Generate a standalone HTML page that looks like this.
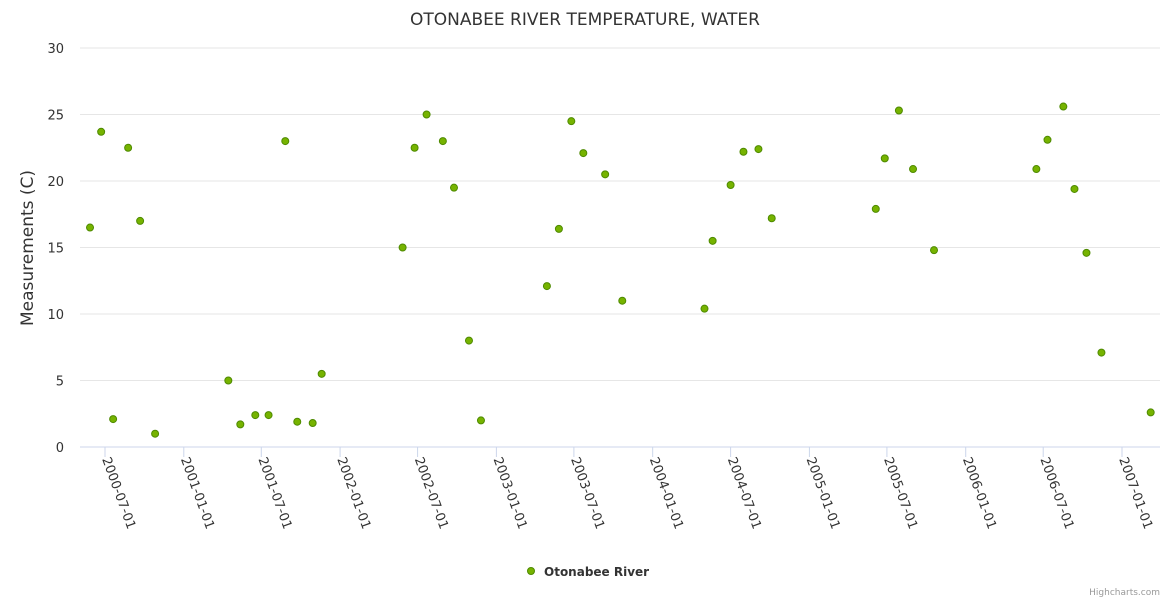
<!DOCTYPE html>
<html><head><meta charset="utf-8"><style>
body{margin:0;background:#fff;font-family:"Liberation Sans","DejaVu Sans",sans-serif}
svg text{font-family:"DejaVu Sans","Liberation Sans",sans-serif}
</style></head><body>
<svg id="c" width="1170" height="600" xmlns="http://www.w3.org/2000/svg">
<rect width="1170" height="600" fill="#fff"/>
<text x="585" y="25" text-anchor="middle" font-size="17" fill="#333">OTONABEE RIVER TEMPERATURE, WATER</text>
<text transform="translate(33,248) rotate(-90)" text-anchor="middle" font-size="17" fill="#333">Measurements (C)</text>
<g id="grid"></g><g id="xax"></g><g id="pts"></g>
<g>
<circle cx="531" cy="571" r="3.5" fill="#76b300" stroke="#4e8a00" stroke-width="1"/>
<text x="544" y="576" font-size="12" font-weight="bold" fill="#333">Otonabee River</text>
</g>
<text x="1160" y="595" text-anchor="end" font-size="9" fill="#999">Highcharts.com</text>
</svg>
<script>
const yTicks=[0,5,10,15,20,25,30];
const xTickLabels=["2000-07-01","2001-01-01","2001-07-01","2002-01-01","2002-07-01","2003-01-01","2003-07-01","2004-01-01","2004-07-01","2005-01-01","2005-07-01","2006-01-01","2006-07-01","2007-01-01"];
const dates=["2000-05-27","2000-06-22","2000-07-20","2000-08-24","2000-09-21","2000-10-26","2001-04-15","2001-05-13","2001-06-17","2001-07-18","2001-08-26","2001-09-23","2001-10-29","2001-11-19","2002-05-27","2002-06-24","2002-07-22","2002-08-29","2002-09-24","2002-10-29","2002-11-26","2003-04-29","2003-05-27","2003-06-25","2003-07-23","2003-09-12","2003-10-22","2004-05-01","2004-05-20","2004-07-01","2004-07-31","2004-09-04","2004-10-05","2005-06-05","2005-06-26","2005-07-29","2005-08-31","2005-10-19","2006-06-15","2006-07-11","2006-08-17","2006-09-12","2006-10-10","2006-11-14","2007-03-09"];
const temps=[16.5,23.7,2.1,22.5,17.0,1.0,5.0,1.7,2.4,2.4,23.0,1.9,1.8,5.5,15.0,22.5,25.0,23.0,19.5,8.0,2.0,12.1,16.4,24.5,22.1,20.5,11.0,10.4,15.5,19.7,22.2,22.4,17.2,17.9,21.7,25.3,20.9,14.8,20.9,23.1,25.6,19.4,14.6,7.1,2.6];
const NS="http://www.w3.org/2000/svg";
const T0=Date.UTC(2000,6,1),T1=Date.UTC(2007,0,1);
function xs(d){const t=Date.parse(d+"T00:00:00Z");return 105+(t-T0)/(T1-T0)*(1122-105);}
function ys(v){return 447-v*(447-48)/30;}
function el(tag,attrs,parent){const e=document.createElementNS(NS,tag);for(const k in attrs)e.setAttribute(k,attrs[k]);parent.appendChild(e);return e;}
const grid=document.getElementById('grid');
yTicks.forEach(v=>{
  const l=el('line',{x1:80,x2:1160,y1:ys(v),y2:ys(v),stroke:v===0?'#ccd6eb':'#e6e6e6','stroke-width':1},grid);
  
  
  const t=el('text',{x:64,y:ys(v)+5,'text-anchor':'end','font-size':13,fill:'#333'},grid);
  t.textContent=v;
  
  
});
const xax=document.getElementById('xax');
xTickLabels.forEach(d=>{
  const x=xs(d);
  const tk=el('line',{x1:x,x2:x,y1:447,y2:457,stroke:'#ccd6eb'},xax);
  
  
  const t=el('text',{x:0,y:0,'font-size':13,fill:'#333',transform:`translate(${x-3},${459}) rotate(70)`},xax);
  t.textContent=d;
  
  
});
const pts=document.getElementById('pts');
dates.forEach((d,i)=>{
  const c=el('circle',{cx:xs(d),cy:ys(temps[i]),r:3.5,fill:'#76b300',stroke:'#4e8a00','stroke-width':1},pts);
  
  
});
</script>
</body></html>
